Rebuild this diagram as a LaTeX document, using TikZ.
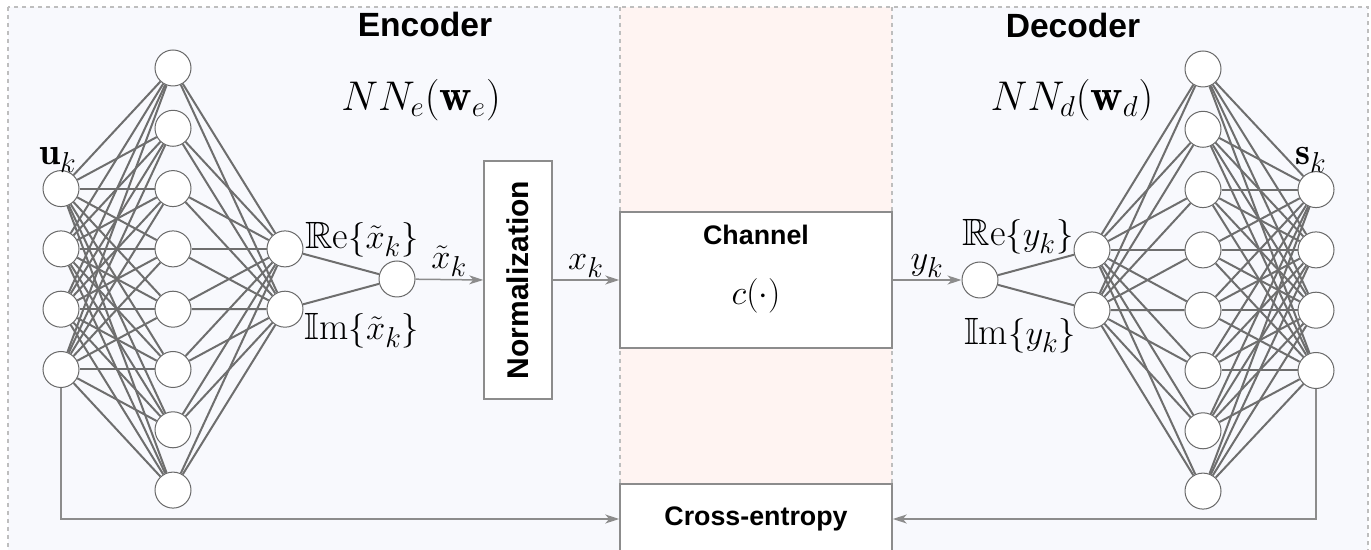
\documentclass[tikz,border=0pt]{standalone}
\usepackage{amssymb}
\usepackage{fontspec}
\setsansfont{Liberation Sans}
\usepackage{tikz}
\usetikzlibrary{arrows.meta}

\definecolor{panelbg}{RGB}{248,249,253}
\definecolor{chanbg}{RGB}{255,244,242}
\definecolor{wiregray}{RGB}{110,110,110}
\definecolor{boxgray}{RGB}{140,140,140}

\begin{document}
\begin{tikzpicture}[x=0.5pt,y=-0.5pt,
		neuron/.style={circle,draw={rgb,255:red,105;green,105;blue,105},line width=0.5pt,fill=white,minimum size=18pt,inner sep=0pt},
		link/.style={draw=wiregray,line width=1pt},
		block/.style={draw=boxgray,line width=0.75pt,fill=white,inner sep=0pt},
		flow/.style={draw=boxgray,line width=0.75pt,-{Stealth[length=7pt,width=4.5pt,inset=2pt]}},
		frame/.style={draw={rgb,255:red,190;green,190;blue,190},line width=0.8pt,dash pattern=on 2pt off 2pt},
		mathlbl/.style={font=\fontsize{19}{22}\selectfont},
		netlbl/.style={font=\fontsize{22.5}{26}\selectfont},
		title/.style={font=\sffamily\bfseries\fontsize{16.8}{20}\selectfont},
		boxlbl/.style={font=\sffamily\bfseries\fontsize{13.4}{16}\selectfont}]
	\useasboundingbox (0,0) rectangle (1371,550);
	\clip (0,0) rectangle (1371,550);
	% panels
	\fill[panelbg] (8,7) rectangle (620,560);
	\fill[chanbg] (620,7) rectangle (892,560);
	\fill[panelbg] (892,7) rectangle (1368,560);
	\draw[frame] (8,7) rectangle (1368,560);
	\draw[frame] (620,7) -- (620,560);
	\draw[frame] (892,7) -- (892,560);
	\node[title] (enctitle) at (425,24) {Encoder};
	\node[title] (dectitle) at (1073,25) {Decoder};
	\node[netlbl] (nne) at (421,100) {$NN_e(\mathbf{w}_e)$};
	\node[netlbl] (nnd) at (1072,100) {$NN_d(\mathbf{w}_d)$};
	% encoder
	\foreach \i in {1,...,4} \node[neuron] (in\i) at (61,{188.6+60.3*(\i-1)}) {};
	\foreach \j in {1,...,8} \node[neuron] (eh\j) at (173,{68+60.3*(\j-1)}) {};
	\foreach \i in {1,2} \node[neuron] (eo\i) at (285,{248.9+60.3*(\i-1)}) {};
	\node[neuron] (ec) at (397,279) {};
	\foreach \i in {1,...,4} \foreach \j in {1,...,8} \draw[link] (in\i) -- (eh\j);
	\foreach \j in {1,...,8} \foreach \i in {1,2} \draw[link] (eh\j) -- (eo\i);
	\draw[link] (eo1) -- (ec);
	\draw[link] (eo2) -- (ec);
	\node[mathlbl] (ulbl) at (58,160) {$\mathbf{u}_k$};
	\node[mathlbl] (relbl) at (362,240) {$\mathbb{R}\mathrm{e}\{\tilde{x}_k\}$};
	\node[mathlbl] (imlbl) at (362,331) {$\mathbb{I}\mathrm{m}\{\tilde{x}_k\}$};
	% blocks
	\node[block,minimum width=34pt,minimum height=119pt] (norm) at (518,280) {};
	\node[font=\sffamily\bfseries\fontsize{15}{18}\selectfont] (normlbl) at (518,280) {\rotatebox{90}{Normalization}};
	\node[block,minimum width=136pt,minimum height=68pt] (chan) at (756,280) {};
	\node[boxlbl] (chanlbl) at (756,235) {Channel};
	\node[mathlbl] (chanfn) at (756,296) {$c(\cdot)$};
	\node[block,minimum width=136pt,minimum height=35pt,boxlbl] (xent) at (756,519) {Cross-entropy};
	\draw[flow] (ec) -- (norm.west) node[midway,above,mathlbl,inner sep=1pt] (xtlbl) {$\tilde{x}_k$};
	\draw[flow] (norm.east) -- (chan.west) node[midway,above,mathlbl,inner sep=1pt] (xlbl) {$x_k$};
	% decoder
	\node[neuron] (dc) at (980,280) {};
	\foreach \i in {1,2} \node[neuron] (di\i) at (1092,{249.9+60.3*(\i-1)}) {};
	\foreach \j in {1,...,8} \node[neuron] (dh\j) at (1203,{69+60.3*(\j-1)}) {};
	\foreach \i in {1,...,4} \node[neuron] (out\i) at (1316,{189.6+60.3*(\i-1)}) {};
	\draw[link] (dc) -- (di1);
	\draw[link] (dc) -- (di2);
	\foreach \i in {1,2} \foreach \j in {1,...,8} \draw[link] (di\i) -- (dh\j);
	\foreach \j in {1,...,8} \foreach \i in {1,...,4} \draw[link] (dh\j) -- (out\i);
	\draw[flow] (chan.east) -- (dc) node[midway,above,mathlbl,inner sep=1pt] (ylbl) {$y_k$};
	\node[mathlbl] (slbl) at (1311,160) {$\mathbf{s}_k$};
	\node[mathlbl] (reylbl) at (1018,237) {$\mathbb{R}\mathrm{e}\{y_k\}$};
	\node[mathlbl] (imylbl) at (1020,336) {$\mathbb{I}\mathrm{m}\{y_k\}$};
	% loss
	\draw[flow] (in4.south) |- (xent.west);
	\draw[flow] (out4.south) |- (xent.east);
\end{tikzpicture}
\end{document}
